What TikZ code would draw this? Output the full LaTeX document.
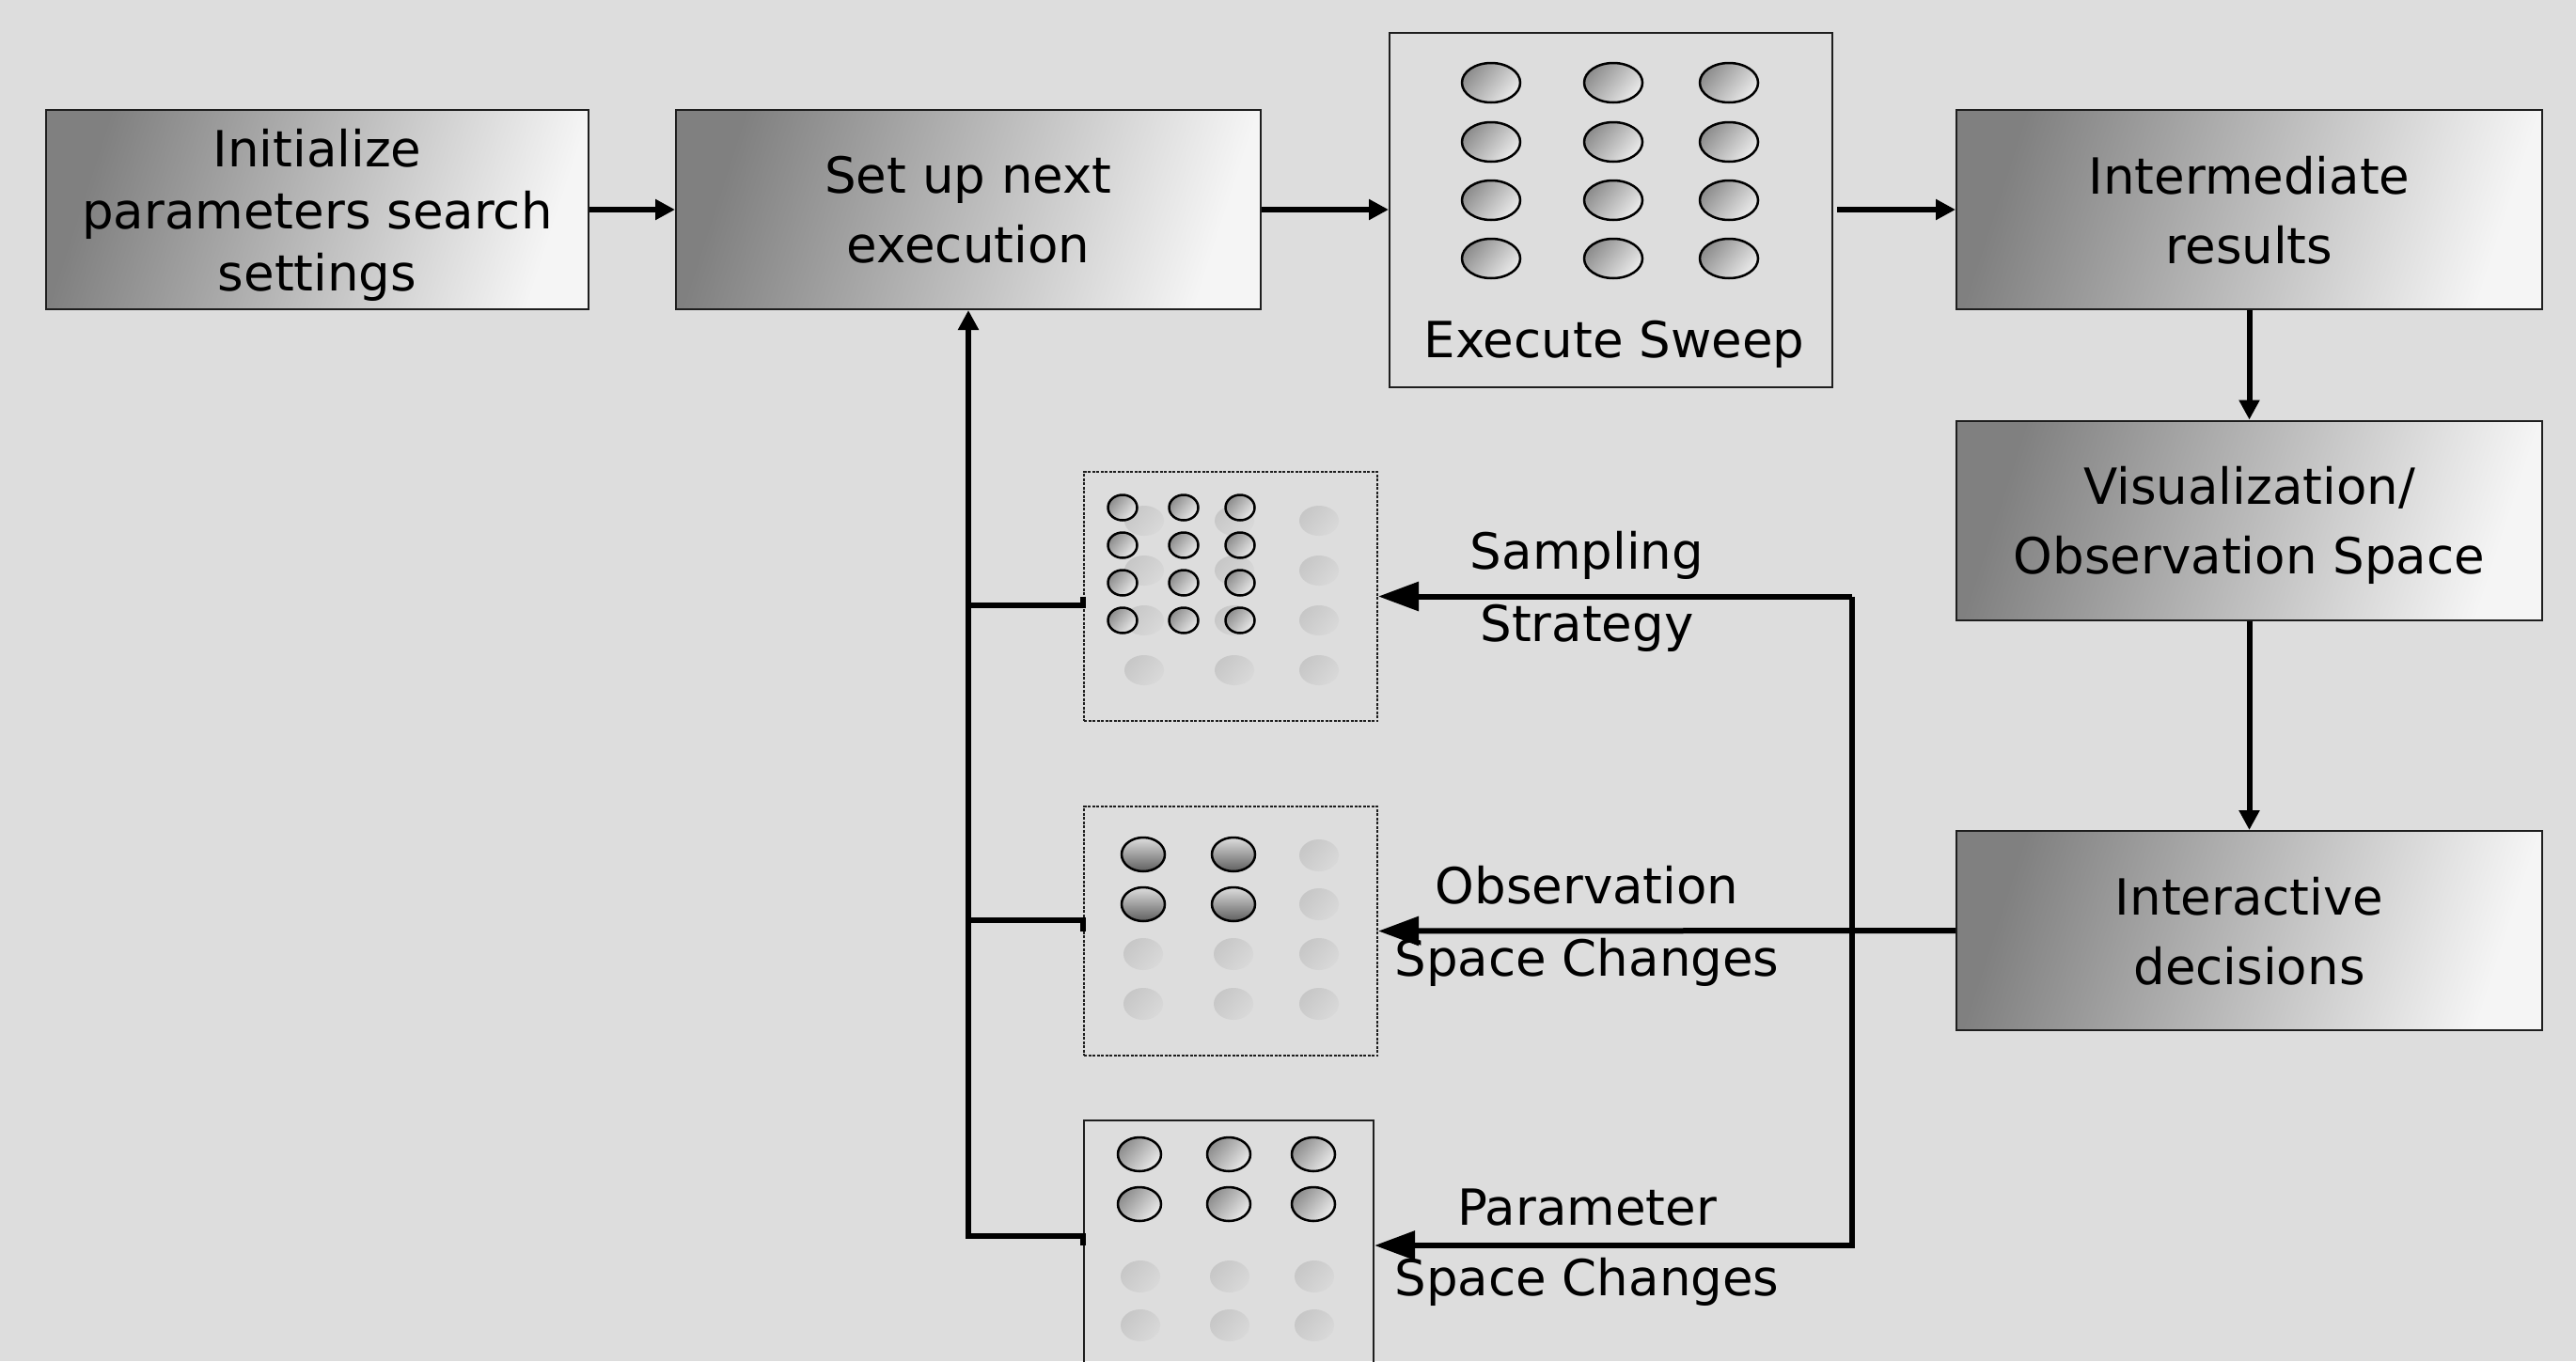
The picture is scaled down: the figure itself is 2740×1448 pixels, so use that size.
\documentclass[tikz,border=0pt]{standalone}
\usepackage{fontspec}
\setmainfont{DejaVu Sans}
\usetikzlibrary{arrows.meta}
\definecolor{bg}{RGB}{221,221,221}
\definecolor{odark}{RGB}{95,95,95}
\definecolor{olight}{RGB}{222,222,222}
\definecolor{edge}{RGB}{30,30,30}
\pgfdeclarehorizontalshading{boxgrad}{100bp}{color(0bp)=(black!50); color(25bp)=(black!50); color(75bp)=(black!4); color(100bp)=(black!4)}
\pgfdeclarehorizontalshading{ballgrad}{100bp}{color(0bp)=(black!45); color(25bp)=(black!45); color(75bp)=(black!8); color(100bp)=(black!8)}
\pgfdeclarehorizontalshading{fadegrad}{100bp}{color(0bp)=(black!22); color(25bp)=(black!22); color(75bp)=(black!15); color(100bp)=(black!15)}
\newcommand\boxfnt{\fontsize{53}{74}\selectfont}
\newcommand\initfnt{\fontsize{53}{66}\selectfont}
\begin{document}
\begin{tikzpicture}[x=1pt,y=-1pt,
  gbox/.style={draw=edge, line width=2pt, shading=boxgrad, shading angle=-18,
    align=center, inner sep=0pt, font=\boxfnt, minimum height=212pt, text depth=0pt},
  plainbox/.style={draw=edge, line width=2pt, inner sep=0pt},
  dotbox/.style={plainbox, dash pattern=on 3pt off 1.5pt, minimum width=312pt, minimum height=265pt},
  lbl/.style={font=\boxfnt, anchor=base, inner sep=0pt},
  conn/.style={line width=6pt},
  sarrow/.style={-{Triangle[length=21pt,width=21pt]}},
  barrow/.style={-{Triangle[length=43pt,width=30pt]}},
  sball/.style={draw=black, line width=2.5pt, shading=ballgrad, shading angle=-40},
  oball/.style={draw=black, line width=2.5pt, top color=olight, bottom color=odark},
  fball/.style={shading=fadegrad, shading angle=-40}
]
\useasboundingbox (0,0) rectangle (2740,1448);
\clip (0,0) rectangle (2740,1448);
\fill[bg] (0,0) rectangle (2740,1448);

% main boxes
\node[gbox, minimum width=577pt, font=\initfnt] (init) at (337.5,223) {Initialize\\parameters search\\settings};
\node[gbox, minimum width=622pt] (setup) at (1030,223) {Set up next\\execution};
\node[plainbox, minimum width=471pt, minimum height=377pt] (exec) at (1713.5,223.5) {};
\node[lbl] (exectxt) at (1717,380) {Execute Sweep};
\node[gbox, minimum width=623pt] (inter) at (2392.5,223) {Intermediate\\results};
\node[gbox, minimum width=623pt] (vis) at (2392.5,553.5) {Visualization/\\Observation Space};
\node[gbox, minimum width=623pt] (dec) at (2392.5,990) {Interactive\\decisions};

% sample boxes
\node[dotbox] (samp) at (1309,634.5) {};
\node[dotbox] (obs) at (1309,990.5) {};
\node[plainbox, minimum width=308pt, minimum height=266pt] (param) at (1307,1325) {};

% ellipses: execute sweep
\foreach \x in {1586,1716,1839} \foreach \y in {88,151,213,275}
  \shadedraw[sball] (\x,\y) ellipse [x radius=31, y radius=21];
% sampling strategy
\foreach \x in {1217,1313,1403} \foreach \y in {554,607,660,713}
  \shade[fball] (\x,\y) ellipse [x radius=21, y radius=16];
\foreach \x in {1194,1259,1319} \foreach \y in {540,580,620,660}
  \shadedraw[sball] (\x,\y) ellipse [x radius=15.5, y radius=13.5];
% observation space changes
\foreach \y in {910,962,1015,1068}
  \shade[fball] (1403,\y) ellipse [x radius=21, y radius=17];
\foreach \x in {1216,1312} \foreach \y in {1015,1068}
  \shade[fball] (\x,\y) ellipse [x radius=21, y radius=17];
\foreach \x in {1216,1312} \foreach \y in {909,962}
  \shadedraw[oball] (\x,\y) ellipse [x radius=23, y radius=18];
% parameter space changes
\foreach \x in {1213,1308,1398} \foreach \y in {1358,1410}
  \shade[fball] (\x,\y) ellipse [x radius=21, y radius=17];
\foreach \x in {1212,1307,1397} \foreach \y in {1228,1281}
  \shadedraw[sball] (\x,\y) ellipse [x radius=23, y radius=18];

% labels
\node[lbl] (samp1) at (1688,605) {Sampling};
\node[lbl] (samp2) at (1688,682) {Strategy};
\node[lbl] (obs1) at (1688,961) {Observation};
\node[lbl] (obs2) at (1688,1038) {Space Changes};
\node[lbl] (par1) at (1688,1303) {Parameter};
\node[lbl] (par2) at (1688,1378) {Space Changes};

% connectors top row
\draw[conn, sarrow] (init.east) -- (setup.west);
\draw[conn, sarrow] (setup.east) -- (exec.west |- setup.east);
\draw[conn, sarrow, shorten <=4pt] (exec.east |- inter.west) -- (inter.west);
\draw[conn, sarrow] (inter.south) -- (vis.north);
\draw[conn, sarrow] (vis.south) -- (dec.north);

% feedback from decisions
\coordinate (rt) at (1970,634.5);
\draw[conn, barrow] (dec.west) -- (obs.east);
\draw[conn, barrow] (rt) -- (samp.east);
\draw[conn, barrow] (rt) |- (param.east);

% back to set up
\coordinate (lj) at (1030,1315);
\draw[conn, sarrow] (param.west) -- ++(0,-10) -- (lj) -- (setup.south);
\draw[conn] (samp.west) -- ++(0,9) -- ++(-123,0);
\draw[conn] (obs.west) -- ++(0,-11.5) -- ++(-123,0);
\end{tikzpicture}
\end{document}
